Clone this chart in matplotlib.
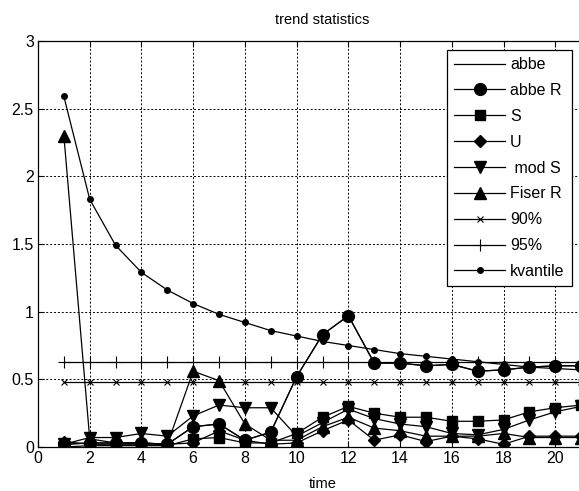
import numpy as np
import matplotlib
matplotlib.use("Agg")
import matplotlib.pyplot as plt

plt.rcParams['font.family'] = ['Liberation Sans', 'DejaVu Sans']

# time steps and series
time = np.arange(1, 22)
abbe = [0.02, 0.03, 0.03, 0.03, 0.02, 0.15, 0.17, 0.05, 0.11, 0.52, 0.83,
        0.97, 0.62, 0.62, 0.60, 0.61, 0.56, 0.57, 0.59, 0.60, 0.60]
abbe_R = [0.02, 0.03, 0.03, 0.03, 0.02, 0.15, 0.17, 0.05, 0.11, 0.52, 0.83,
          0.97, 0.62, 0.62, 0.60, 0.61, 0.56, 0.57, 0.59, 0.60, 0.60]
S = [0.00, 0.01, 0.01, 0.01, 0.01, 0.06, 0.07, 0.03, 0.03, 0.10, 0.22,
     0.30, 0.25, 0.22, 0.22, 0.19, 0.19, 0.20, 0.26, 0.29, 0.31]
U = [0.04, 0.02, 0.02, 0.02, 0.02, 0.03, 0.12, 0.05, 0.02, 0.03, 0.12,
     0.20, 0.05, 0.09, 0.04, 0.08, 0.06, 0.02, 0.08, 0.08, 0.08]
mod_S = [0.02, 0.07, 0.07, 0.10, 0.08, 0.23, 0.31, 0.29, 0.29, 0.08, 0.18,
         0.28, 0.21, 0.17, 0.15, 0.10, 0.09, 0.13, 0.20, 0.26, 0.30]
fiser_R = [2.30, 0.06, 0.03, 0.03, 0.02, 0.56, 0.49, 0.17, 0.05, 0.05, 0.15,
           0.22, 0.14, 0.12, 0.08, 0.08, 0.08, 0.10, 0.07, 0.07, 0.07]
q90 = [0.48, 0.48, 0.48, 0.48, 0.48, 0.48, 0.48, 0.48, 0.48, 0.48, 0.48,
       0.48, 0.48, 0.48, 0.48, 0.48, 0.48, 0.48, 0.48, 0.48, 0.48]
q95 = [0.63, 0.63, 0.63, 0.63, 0.63, 0.63, 0.63, 0.63, 0.63, 0.63, 0.63,
       0.63, 0.63, 0.63, 0.63, 0.63, 0.63, 0.63, 0.63, 0.63, 0.63]
kvantile = [2.59, 1.83, 1.49, 1.29, 1.16, 1.06, 0.98, 0.92, 0.86, 0.82, 0.78,
            0.75, 0.72, 0.69, 0.67, 0.65, 0.63, 0.61, 0.59, 0.58, 0.57]

fig = plt.figure(figsize=(5.79, 4.91), dpi=100)
ax = fig.add_axes([38 / 579, 44 / 491, 569 / 579, 406 / 491])

lw = 0.9
ax.plot(time, abbe, color='k', lw=lw, label='abbe')
ax.plot(time, abbe_R, color='k', lw=lw, marker='o', ms=8.5, label='abbe R')
ax.plot(time, S, color='k', lw=lw, marker='s', ms=7, label='S')
ax.plot(time, U, color='k', lw=lw, marker='D', ms=6, label='U')
ax.plot(time, mod_S, color='k', lw=lw, marker='v', ms=9, label=' mod S')
ax.plot(time, fiser_R, color='k', lw=lw, marker='^', ms=9, label='Fiser R')
ax.plot(time, q90, color='k', lw=lw, marker='x', ms=4.5, mew=0.8, label='90%')
ax.plot(time, q95, color='k', lw=lw, marker='+', ms=8, mew=0.8, label='95%')
ax.plot(time, kvantile, color='k', lw=lw, marker='o', ms=4, label='kvantile')

ax.set_xlim(0, 22)
ax.set_ylim(0, 3)
ax.set_xticks(np.arange(0, 21, 2))
ax.set_yticks([0, 0.5, 1, 1.5, 2, 2.5, 3])
ax.set_yticklabels(['0', '0.5', '1', '1.5', '2', '2.5', '3'])
ax.tick_params(direction='in', top=True, right=True, labelsize=11.5,
               length=4, width=0.8, pad=3)
ax.grid(True, color='k', linestyle=(0, (2, 2)), lw=0.7)
for sp in ax.spines.values():
    sp.set_linewidth(0.9)

ax.set_title('trend statistics', fontsize=10.5, pad=12)
ax.set_xlabel('time', fontsize=10.5, labelpad=8)

leg = ax.legend(loc='upper left', bbox_to_anchor=(447 / 579, 1 - 50 / 491),
                bbox_transform=fig.transFigure, borderaxespad=0,
                fontsize=11.5, numpoints=1,
                handlelength=3.2, handletextpad=0.3, labelspacing=0.68,
                borderpad=0.45, fancybox=False, framealpha=1, edgecolor='k')
leg.get_frame().set_linewidth(0.9)

fig.savefig("out.png", dpi=100)
